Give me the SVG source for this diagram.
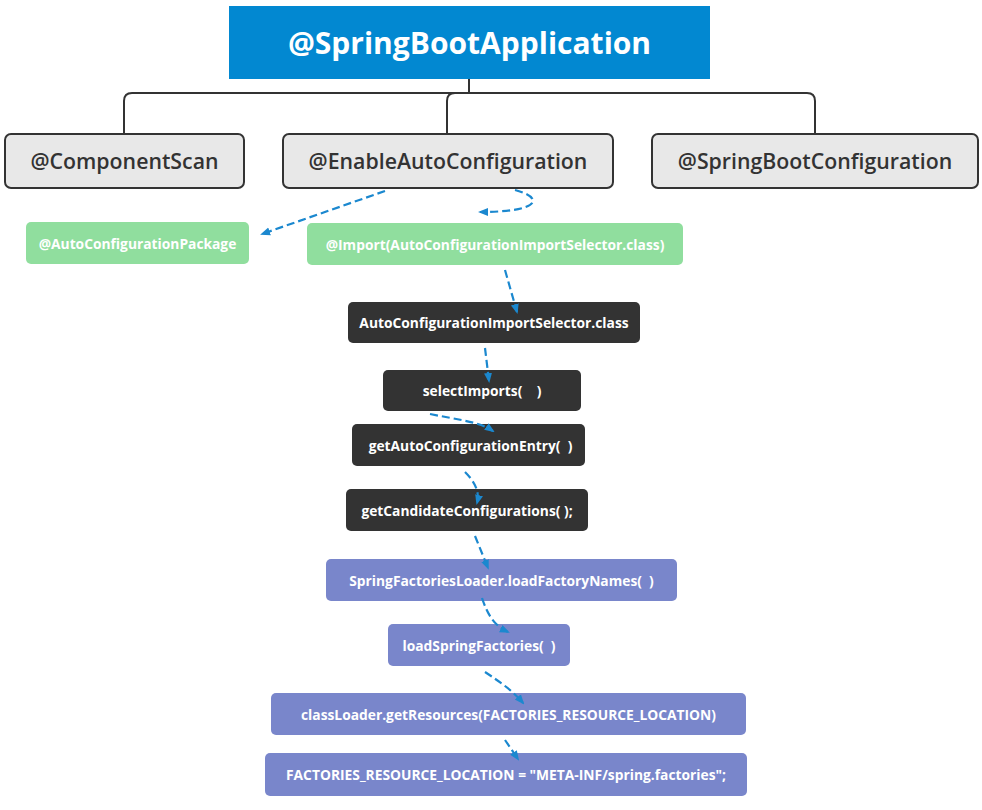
<svg xmlns="http://www.w3.org/2000/svg" width="982" height="810" viewBox="0 0 982 810">
<defs>
<marker id="ah" viewBox="0 0 10 10" refX="8" refY="5" markerWidth="10" markerHeight="10" orient="auto" markerUnits="userSpaceOnUse">
<path d="M0,1 L10,5 L0,9 z" fill="#1b88cf"/>
</marker>
<style>
text{font-family:"Open Sans","Noto Sans","DejaVu Sans",sans-serif;text-anchor:middle;dominant-baseline:central}
.root{fill:#0288d1}
.rootT{fill:#fff;font-size:30px;font-weight:700}
.gray{fill:#e8e8e8;stroke:#333;stroke-width:2}
.grayT{fill:#333;font-size:21.3px;font-weight:600}
.green{fill:#90de9e}
.dark{fill:#333333}
.purple{fill:#7986cb}
.sm{fill:#fff;font-size:13.8px;font-weight:700}
.tree{fill:none;stroke:#333;stroke-width:2}
.dash{fill:none;stroke:#1b88cf;stroke-width:2.2;stroke-dasharray:8 4;marker-end:url(#ah)}
</style>
</defs>
<g id="n-root"><rect class="root" x="229" y="6" width="481" height="73"/><text class="rootT" x="469.5" y="42.5">@SpringBootApplication</text></g>
<g id="n-componentscan"><rect class="gray" x="5" y="134" width="239" height="54" rx="6"/><text class="grayT" x="124.5" y="160">@ComponentScan</text></g>
<g id="n-enableauto"><rect class="gray" x="283" y="134" width="330" height="54" rx="6"/><text class="grayT" x="448" y="160">@EnableAutoConfiguration</text></g>
<g id="n-springbootconfig"><rect class="gray" x="652" y="134" width="326" height="54" rx="6"/><text class="grayT" x="815" y="160">@SpringBootConfiguration</text></g>
<g id="n-autopackage"><rect class="green" x="26" y="222" width="223" height="42" rx="5"/><text class="sm" x="137.5" y="243">@AutoConfigurationPackage</text></g>
<g id="n-import"><rect class="green" x="307" y="223" width="376" height="42" rx="5"/><text class="sm" x="495" y="244">@Import(AutoConfigurationImportSelector.class)</text></g>
<g id="n-selector"><rect class="dark" x="348" y="302" width="292" height="41" rx="5"/><text class="sm" x="494" y="322.5">AutoConfigurationImportSelector.class</text></g>
<g id="n-selectimports"><rect class="dark" x="383" y="370" width="198" height="41" rx="5"/><text class="sm" x="482" y="390.5" xml:space="preserve">selectImports(    )</text></g>
<g id="n-getentry"><rect class="dark" x="352" y="424" width="233" height="42" rx="5"/><text class="sm" x="470.5" y="445" xml:space="preserve">getAutoConfigurationEntry(  )</text></g>
<g id="n-getcandidate"><rect class="dark" x="346" y="489" width="242" height="42" rx="5"/><text class="sm" x="467" y="510">getCandidateConfigurations( );</text></g>
<g id="n-loadfactorynames"><rect class="purple" x="326" y="559" width="351" height="42" rx="5"/><text class="sm" x="501.5" y="580" xml:space="preserve">SpringFactoriesLoader.loadFactoryNames(  )</text></g>
<g id="n-loadspringfactories"><rect class="purple" x="388" y="624" width="182" height="42" rx="5"/><text class="sm" x="479" y="645" xml:space="preserve">loadSpringFactories(  )</text></g>
<g id="n-getresources"><rect class="purple" x="271" y="693" width="475" height="42" rx="5"/><text class="sm" x="508.5" y="714">classLoader.getResources(FACTORIES_RESOURCE_LOCATION)</text></g>
<g id="n-location"><rect class="purple" x="265" y="753" width="482" height="43" rx="5"/><text class="sm" x="506" y="774.5">FACTORIES_RESOURCE_LOCATION = "META-INF/spring.factories";</text></g>
<g id="connectors">
<path class="tree" d="M469,79 V93 M132,93 H807 M132,93 Q124,93 124,101 V134 M455,93 Q447,93 447,101 V134 M807,93 Q815,93 815,101 V134"/>
<path class="dash" d="M385,191 L262,234"/>
<path class="dash" d="M515,190 C545,198 540,212 480,212"/>
<path class="dash" d="M505,270 L517,312"/>
<path class="dash" d="M485,348 L489,381"/>
<path class="dash" d="M430,414 C460,420 480,422 493,431"/>
<path class="dash" d="M465,472 C475,482 480,492 477,503"/>
<path class="dash" d="M475,536 L488,568"/>
<path class="dash" d="M482,598 C488,616 495,626 508,632"/>
<path class="dash" d="M485,672 C500,682 512,690 523,703"/>
<path class="dash" d="M505,740 L518,759"/>
</g>
</svg>
